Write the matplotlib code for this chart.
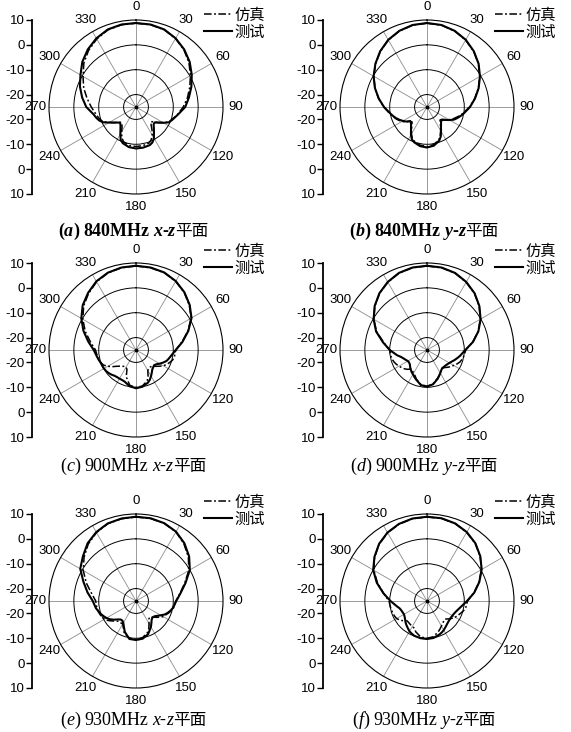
import numpy as np
import matplotlib.pyplot as plt

plt.rcParams['font.family'] = ['Liberation Sans', 'Noto Sans CJK SC']

W, H = 571, 732

# angles in degrees (0 at top, clockwise)
ANG = [0, 10, 20, 30, 40, 50, 60, 70, 80, 90, 100,
       105, 110, 115, 120, 125, 130, 135, 140, 145, 150, 155,
       160, 170, 180, 190, 200,
       205, 210, 215, 220, 225, 230, 235, 240, 245, 250, 255,
       260, 270, 280, 290, 300, 310, 320, 330, 340, 350]

# (a) 840MHz x-z
A_SIM = [8.7, 8.6, 8.1, 6.8, 5.0, 2.8, 0.3, -2.0, -4.0, -6.0, -8.0,
         -9.0, -9.8, -10.6, -12.5, -14.2, -15.8, -16.6, -15.5, -13.8, -12.0, -10.5,
         -9.6, -9.2, -9.1, -9.3, -10.2,
         -11.5, -13.5, -15.2, -16.2, -16.3, -15.3, -14.0, -12.6, -10.8, -9.8, -9.2,
         -8.6, -7.0, -5.0, -2.6, -0.4, 2.4, 4.7, 6.6, 8.0, 8.6]
A_MEA = [8.8, 8.7, 8.2, 6.9, 5.2, 3.2, 0.9, -1.3, -3.4, -5.2, -7.8,
         -8.8, -9.6, -10.4, -12.3, -14.0, -15.3, -15.0, -13.8, -12.4, -10.6, -9.3,
         -8.7, -8.4, -8.3, -8.6, -9.5,
         -10.4, -12.4, -14.1, -15.3, -16.0, -15.3, -14.1, -12.5, -10.4, -9.2, -8.4,
         -7.7, -5.0, -3.0, -1.0, 0.8, 3.2, 5.2, 6.9, 8.2, 8.7]

# (b) 840MHz y-z
B_SIM = [8.7, 8.4, 7.5, 6.1, 4.2, 2.0, -0.5, -3.0, -5.5, -7.9, -10.3,
         -11.4, -12.6, -13.6, -14.8, -16.2, -17.3, -17.6, -16.6, -15.5, -14.0, -12.4,
         -11.0, -9.6, -9.1, -9.4, -10.3,
         -11.0, -12.5, -14.2, -15.5, -16.5, -16.0, -14.5, -13.4, -12.4, -11.5, -10.7,
         -9.8, -7.6, -5.2, -2.7, -0.3, 2.0, 4.2, 6.1, 7.5, 8.4]
B_MEA = [8.8, 8.5, 7.6, 6.2, 4.3, 2.1, -0.4, -2.9, -5.4, -7.7, -10.0,
         -11.0, -12.0, -13.0, -14.5, -15.9, -16.9, -17.0, -16.2, -15.2, -13.7, -11.9,
         -10.6, -9.2, -8.7, -9.0, -9.9,
         -10.6, -12.1, -13.8, -15.0, -15.9, -16.2, -14.8, -13.8, -12.8, -11.8, -10.9,
         -10.0, -7.7, -5.3, -2.7, -0.2, 2.1, 4.3, 6.2, 7.6, 8.5]

# (c) 900MHz x-z
C_SIM = [8.8, 8.6, 8.1, 6.9, 5.2, 3.0, 0.6, -2.8, -6.2, -9.0, -9.3,
         -9.7, -10.5, -11.3, -12.3, -13.6, -14.8, -15.7, -16.1, -16.0, -15.5, -13.5,
         -11.8, -10.3, -9.9, -10.6, -13.5,
         -16.4, -17.0, -17.0, -16.4, -15.8, -14.8, -13.3, -11.9, -10.6, -10.0, -9.6,
         -9.3, -8.7, -6.4, -3.3, -0.3, 2.5, 4.7, 6.7, 8.0, 8.6]
C_MEA = [8.9, 8.7, 8.2, 7.0, 5.3, 3.2, 0.8, -2.6, -6.0, -9.0, -10.8,
         -11.4, -12.0, -13.0, -14.0, -15.0, -15.5, -15.2, -14.8, -13.9, -12.9, -11.8,
         -11.0, -10.0, -9.6, -10.2, -11.5,
         -11.7, -11.7, -11.7, -11.5, -11.0, -10.6, -10.3, -10.1, -10.0, -9.9, -9.5,
         -9.1, -8.0, -5.5, -2.5, 0.4, 3.0, 5.0, 6.9, 8.1, 8.7]

# (d) 900MHz y-z
D_SIM = [8.8, 8.6, 7.9, 6.5, 4.7, 2.4, -0.2, -3.1, -6.3, -9.4, -10.0,
         -10.4, -10.9, -11.7, -12.6, -13.3, -14.2, -15.0, -15.4, -15.0, -14.4, -13.5,
         -12.8, -11.2, -10.4, -10.9, -12.5,
         -13.6, -14.2, -14.8, -15.0, -14.0, -13.2, -12.6, -12.0, -11.4, -10.9, -10.5,
         -10.3, -10.0, -7.3, -3.4, -0.3, 2.4, 4.7, 6.5, 7.9, 8.6]
D_MEA = [8.9, 8.7, 8.0, 6.6, 4.8, 2.5, -0.1, -3.0, -6.2, -9.6, -11.5,
         -12.4, -13.2, -14.0, -14.6, -15.0, -15.3, -15.4, -15.5, -15.0, -14.3, -13.5,
         -12.6, -11.0, -10.2, -10.7, -12.3,
         -13.0, -13.7, -14.2, -14.8, -15.4, -16.0, -16.2, -16.1, -15.6, -15.0, -14.2,
         -12.8, -10.0, -7.0, -3.2, -0.2, 2.5, 4.8, 6.6, 8.0, 8.7]

# (e) 930MHz x-z
E_SIM = [8.8, 8.7, 8.2, 7.1, 5.0, 2.5, -0.5, -4.2, -7.0, -9.0, -9.6,
         -10.2, -11.0, -11.8, -12.4, -13.6, -14.8, -15.8, -16.5, -16.0, -14.5, -12.8,
         -11.5, -10.0, -9.5, -9.8, -11.2,
         -13.0, -14.3, -14.3, -14.3, -13.6, -12.5, -11.3, -10.5, -9.9, -9.5, -9.2,
         -9.0, -8.8, -6.8, -3.7, -0.5, 2.3, 4.9, 6.8, 8.1, 8.6]
E_MEA = [8.9, 8.8, 8.3, 7.2, 5.3, 2.9, 0.0, -3.8, -6.8, -8.8, -9.8,
         -10.5, -11.3, -12.2, -13.5, -14.6, -15.4, -15.6, -15.2, -14.2, -13.0, -12.0,
         -10.8, -9.6, -9.3, -9.5, -11.8,
         -13.5, -14.8, -15.4, -15.3, -14.5, -13.3, -12.2, -11.3, -10.6, -9.9, -9.3,
         -8.6, -7.6, -5.2, -2.5, 0.9, 2.9, 5.3, 7.0, 8.2, 8.7]

# (f) 930MHz y-z
F_SIM = [8.8, 8.7, 8.1, 6.9, 5.2, 2.9, 0.3, -2.7, -5.8, -8.7, -9.2,
         -9.8, -10.6, -11.3, -11.9, -12.8, -13.8, -14.7, -14.5, -14.0, -13.4, -12.6,
         -11.8, -10.4, -10.0, -10.3, -11.8,
         -12.9, -13.2, -13.4, -13.6, -13.7, -12.6, -11.6, -10.9, -10.6, -10.4, -10.3,
         -10.1, -9.7, -7.3, -3.8, -0.3, 2.5, 4.9, 6.7, 7.9, 8.6]
F_MEA = [8.9, 8.8, 8.2, 7.0, 5.3, 3.0, 0.4, -2.6, -5.7, -8.9, -11.2,
         -12.0, -12.6, -13.0, -13.2, -13.3, -13.2, -13.0, -12.6, -12.1, -11.5, -11.0,
         -10.6, -9.9, -9.7, -9.8, -10.1,
         -10.5, -10.9, -11.6, -12.2, -12.8, -13.5, -14.0, -14.3, -14.2, -14.0, -13.6,
         -12.7, -10.3, -7.2, -3.5, 0.0, 2.6, 5.0, 6.8, 8.0, 8.7]

LETTERS = ['a', 'b', 'c', 'd', 'e', 'f']
FREQS = ['840MHz', '840MHz', '900MHz', '900MHz', '930MHz', '930MHz']
PLANES = ['x-z', 'y-z', 'x-z', 'y-z', 'x-z', 'y-z']
SIM = [A_SIM, B_SIM, C_SIM, D_SIM, E_SIM, F_SIM]
MEA = [A_MEA, B_MEA, C_MEA, D_MEA, E_MEA, F_MEA]
THETA_LABELS = [str(a) for a in range(0, 360, 30)]
SCALE_LABELS = ['10', '0', '-10', '-20', '-20', '-10', '0', '10']

# layout (pixels)
CX = [136, 427, 136, 427, 136, 427]
CY = [107, 107, 350, 350, 601, 601]
CAP_Y = [236, 236, 471, 471, 725, 725]
LEG_DY = [-83, -83, -90, -90, -90, -90]
R = 87

fig = plt.figure(figsize=(W / 100, H / 100), dpi=100)
rend = fig.canvas.get_renderer()
DASHDOT = (0, (5, 1.6, 1.2, 1.6))


def caption(xc, yb, letter, freq, plane, weight):
    serif = dict(family='Liberation Serif', size=13, weight=weight)
    cjk = dict(family='Noto Sans CJK SC', size=12, weight='normal')
    pieces = [('(', 'normal', serif, 0), (letter, 'italic', serif, 0),
              (')', 'normal', serif, 4), (freq, 'normal', serif, 4),
              (plane[0], 'italic', serif, 0), ('-', 'normal', serif, 0),
              (plane[2], 'italic', serif, 0), ('平面', 'normal', cjk, 0)]
    items = []
    x = 0
    for s, st, fp, gap in pieces:
        t = fig.text(0, 1 - yb / H, s, style=st, ha='left', va='baseline', **fp)
        w = t.get_window_extent(rend).width
        items.append((t, x))
        x += w + gap
    x0 = xc - x / 2
    for t, dx in items:
        t.set_x((x0 + dx) / W)


for i in range(6):
    cx, cy = CX[i], CY[i]
    rect = [(cx - R) / W, 1 - (cy + R) / H, 2 * R / W, 2 * R / H]

    # dB scale bar on the left
    sax = fig.add_axes([(cx - 104) / W, rect[1], 0.001, rect[3]])
    sax.set_ylim(-35, 35)
    sax.set_yticks([35, 25, 15, 5, -5, -15, -25, -35])
    sax.set_yticklabels(SCALE_LABELS, fontsize=9.5)
    sax.set_xticks([])
    for s in ['top', 'right', 'bottom']:
        sax.spines[s].set_visible(False)
    sax.spines['left'].set_linewidth(1.3)
    sax.tick_params(axis='y', direction='out', length=4, width=1, pad=1)
    sax.patch.set_alpha(0)

    ax = fig.add_axes(rect, projection='polar')
    ax.set_theta_zero_location('N')
    ax.set_theta_direction(-1)
    th = np.deg2rad(ANG + [360])
    ax.plot(th, SIM[i] + [SIM[i][0]], color='k', lw=1.1, ls=DASHDOT, label='仿真')
    ax.plot(th, MEA[i] + [MEA[i][0]], color='k', lw=1.5, label='测试')
    ax.plot([0], [-25], marker='o', ms=1.8, color='k')
    ax.set_ylim(-25, 10)
    ax.set_yticks([-20, -10, 0])
    ax.set_yticklabels([])
    ax.set_thetagrids(range(0, 360, 30), THETA_LABELS)
    ax.tick_params(axis='x', pad=2.5, labelsize=9.5, length=0)
    ax.xaxis.grid(True, color='#8c8c8c', lw=0.6)
    ax.yaxis.grid(True, color='k', lw=0.7)
    ax.spines['polar'].set_linewidth(0.8)
    ax.set_axisbelow(True)

    ax.legend(loc='center left', bbox_to_anchor=((cx + 68) / W, 1 - (cy + LEG_DY[i]) / H),
              bbox_transform=fig.transFigure, frameon=False, fontsize=11,
              handlelength=1.85, handletextpad=0.15, labelspacing=0.2,
              borderpad=0, borderaxespad=0)

    caption(cx - 3, CAP_Y[i], LETTERS[i], FREQS[i], PLANES[i],
            'bold' if i < 2 else 'normal')

fig.savefig('out.png', dpi=100)
